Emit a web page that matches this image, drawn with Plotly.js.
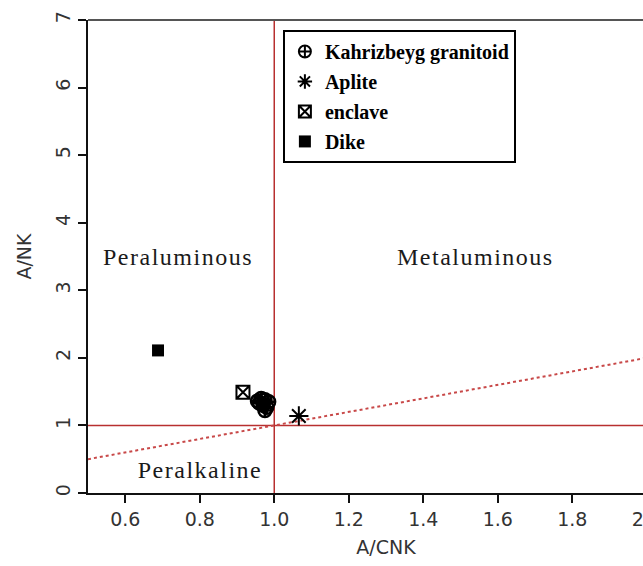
<!DOCTYPE html>
<html><head><meta charset="utf-8">
<script src="https://cdn.plot.ly/plotly-3.0.1.min.js"></script>
<style>
html,body{margin:0;padding:0;overflow:hidden;background:#fff;width:643px;height:566px}
#chart text.annotation-text{letter-spacing:1.5px}
</style>
</head><body><div id="chart" style="width:694px;height:566px"></div>
<script>
// Data
const granitoidX = [0.955, 0.965, 0.975, 0.970, 0.980, 0.960, 0.975, 0.985];
const granitoidY = [1.36, 1.40, 1.38, 1.30, 1.27, 1.33, 1.22, 1.35];
const apliteX = [1.066];
const apliteY = [1.14];
const enclaveX = [0.916];
const enclaveY = [1.49];
const dikeX = [0.688];
const dikeY = [2.11];
const seriesNames = ['Kahrizbeyg granitoid', 'Aplite', 'enclave', 'Dike'];
const boundaryX = [0.5, 2.1];       // y = x dotted boundary
const boundaryY = [0.5, 2.1];
const xTicks = [0.6, 0.8, 1.0, 1.2, 1.4, 1.6, 1.8, 2.0];
const xTickText = ['0.6', '0.8', '1.0', '1.2', '1.4', '1.6', '1.8', '2.0'];
const yTicks = [0, 1, 2, 3, 4, 5, 6, 7];
const regionLabels = ['Peraluminous', 'Metaluminous', 'Peralkaline'];
const regionX = [0.742, 1.541, 0.80];
const regionY = [3.5, 3.5, 0.34];

const red = '#b83030';
const traces = [
  {x: boundaryX, y: boundaryY, mode: 'lines', showlegend: false, hoverinfo: 'skip',
   line: {color: '#c84848', width: 2, dash: 'dot'}},
  {x: granitoidX, y: granitoidY, name: seriesNames[0], legendgroup: 'a', mode: 'markers', type: 'scatter',
   marker: {symbol: 'circle-cross-open', size: 13, color: '#000', line: {width: 2.5, color: '#000'}}},
  {x: apliteX, y: apliteY, name: seriesNames[1], legendgroup: 'b', mode: 'markers', type: 'scatter',
   marker: {symbol: 'asterisk-open', size: 16, color: '#000', line: {width: 2, color: '#000'}}},
  {x: enclaveX, y: enclaveY, name: seriesNames[2], legendgroup: 'c', mode: 'markers', type: 'scatter',
   marker: {symbol: 'square-x-open', size: 13, color: '#000', line: {width: 2, color: '#000'}}},
  {x: dikeX, y: dikeY, name: seriesNames[3], legendgroup: 'd', mode: 'markers', type: 'scatter',
   marker: {symbol: 'square', size: 12, color: '#000'}}
];

const tickFont = {family: 'DejaVu Sans, Liberation Sans, sans-serif', size: 19, color: '#333'};
const annotations = regionLabels.map((t, i) => ({
  x: regionX[i], y: regionY[i], xref: 'x', yref: 'y', text: t, showarrow: false,
  font: {family: 'Liberation Serif, Times New Roman, serif', size: 24, color: '#1a1a1a'}
}));

const layout = {
  width: 694, height: 566,
  margin: {l: 88, r: 10, t: 20, b: 73},
  paper_bgcolor: '#fff', plot_bgcolor: '#fff',
  showlegend: true,
  legend: {
    x: 0.327, y: 0.979, xanchor: 'left', yanchor: 'top',
    bgcolor: '#fff', bordercolor: '#000', borderwidth: 2,
    traceorder: 'grouped', tracegroupgap: 1, itemsizing: 'constant', itemwidth: 30,
    font: {family: 'Liberation Serif, Times New Roman, serif', size: 20, color: '#000', weight: 'bold'}
  },
  xaxis: {
    range: [0.5, 2.1], tickvals: xTicks, ticktext: xTickText,
    showgrid: false, zeroline: false,
    showline: true, linecolor: '#111', linewidth: 2,
    ticks: 'outside', ticklen: 8, tickwidth: 2, tickcolor: '#111',
    tickfont: tickFont,
    title: {text: 'A/CNK', font: tickFont, standoff: 12}
  },
  yaxis: {
    range: [0, 7], tickvals: yTicks,
    showgrid: false, zeroline: false,
    showline: true, linecolor: '#111', linewidth: 2,
    ticks: 'outside', ticklen: 8, tickwidth: 2, tickcolor: '#111',
    tickangle: -90, tickfont: tickFont,
    title: {text: 'A/NK', font: tickFont, standoff: 16}
  },
  shapes: [
    {type: 'line', xref: 'paper', yref: 'paper', x0: 0, x1: 1, y0: 1, y1: 1, line: {color: '#555', width: 2}},
    {type: 'line', xref: 'x', yref: 'paper', x0: 1, x1: 1, y0: 0, y1: 1, line: {color: red, width: 1.5}, layer: 'below'},
    {type: 'line', xref: 'paper', yref: 'y', x0: 0, x1: 1, y0: 1, y1: 1, line: {color: red, width: 1.5}, layer: 'below'}
  ],
  annotations: annotations
};

Plotly.newPlot('chart', traces, layout, {displayModeBar: false, staticPlot: true});
</script>
</body></html>
